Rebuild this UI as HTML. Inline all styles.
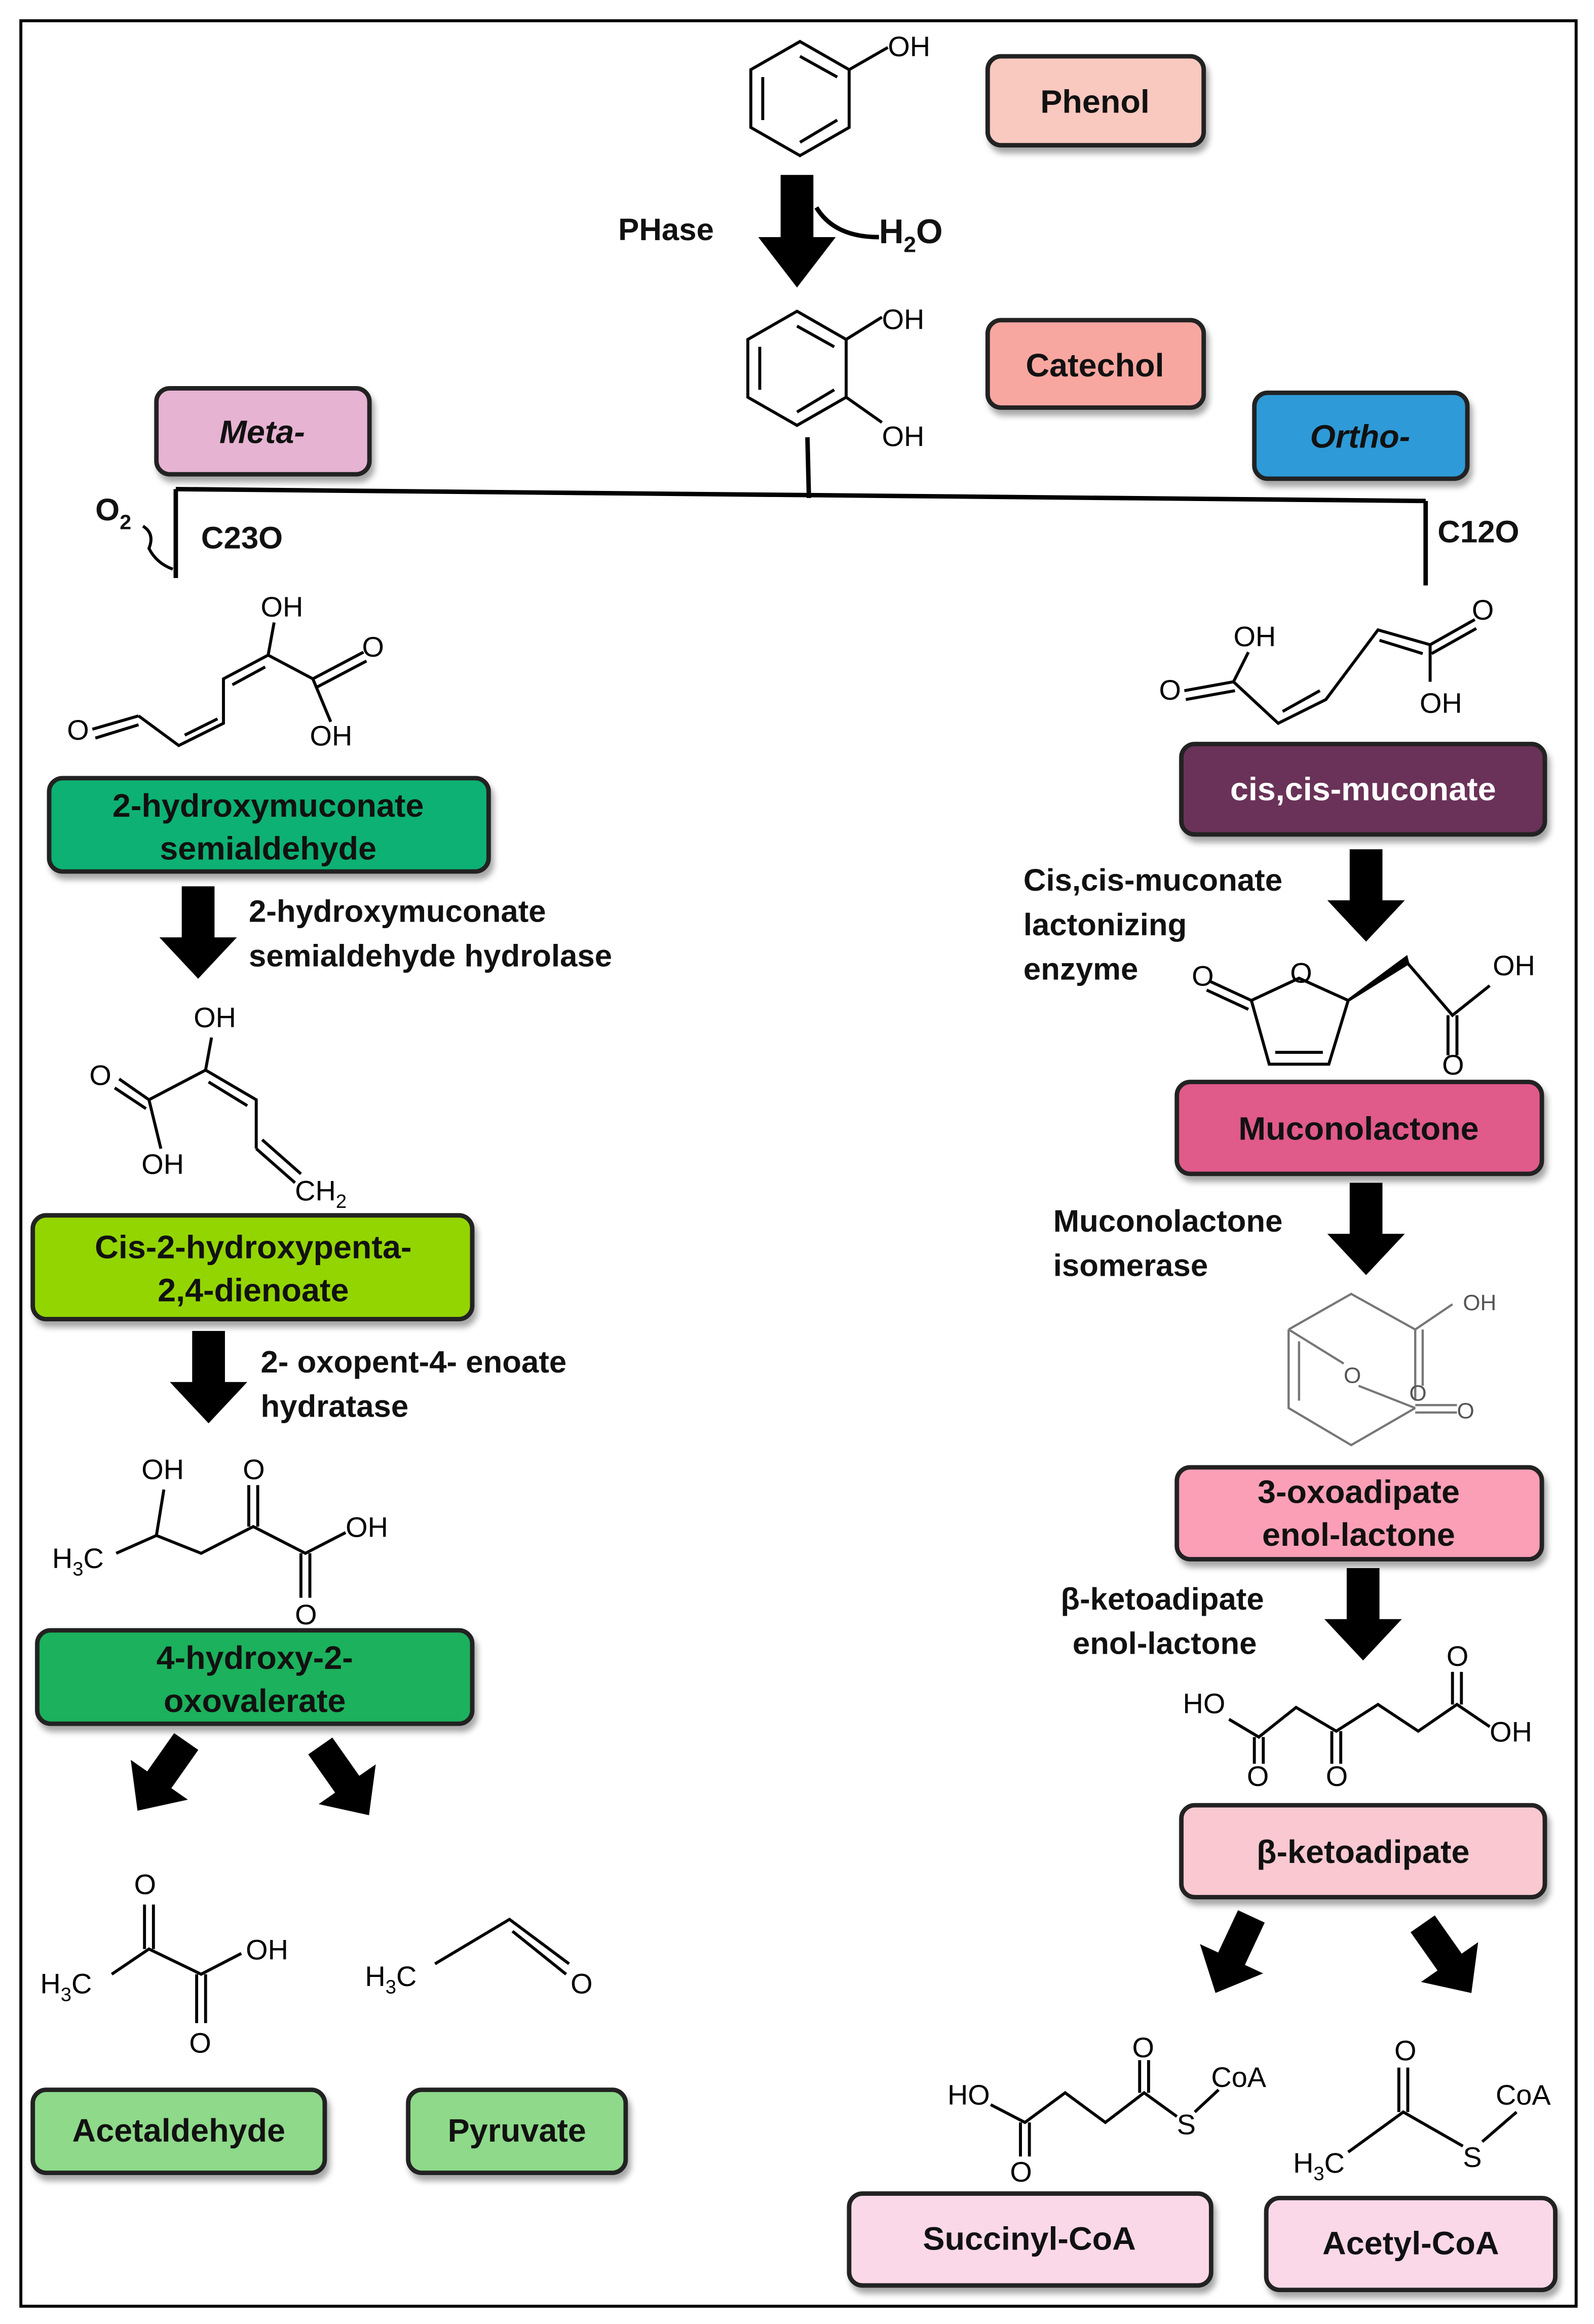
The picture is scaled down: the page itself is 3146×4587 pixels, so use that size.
<!DOCTYPE html>
<html><head><meta charset="utf-8"><style>html,body{margin:0;padding:0;background:#fff}svg{display:block}</style></head>
<body>
<svg width="3146" height="4587" viewBox="0 0 1070 1568" preserveAspectRatio="none" xmlns="http://www.w3.org/2000/svg" font-family="Liberation Sans, sans-serif">
<defs>
<g id="arr"><polygon points="-11,0 11,0 11,42 26,42 0,76 -26,42 -11,42" fill="#000"/></g>
<filter id="sh" x="-10%" y="-10%" width="130%" height="140%"><feDropShadow dx="2" dy="4" stdDeviation="2" flood-color="#000" flood-opacity="0.35"/></filter>
</defs>
<rect x="14" y="14" width="1044" height="1542" fill="#fff" stroke="#000" stroke-width="2"/>

<g fill="none" stroke="#000" stroke-width="2">
<polygon points="537,28 570,47 570,86 537,105 504,86 504,47"/>
<polyline points="537,38 562,52"/><polyline points="562,81 537,96"/><polyline points="512,52 512,81"/>
<line x1="570" y1="47" x2="596" y2="32"/>
<polygon points="535,210 568,229 568,268 535,287 502,268 502,229"/>
<polyline points="535,220 560,234"/><polyline points="560,263 535,278"/><polyline points="510,234 510,263"/>
<line x1="568" y1="229" x2="592" y2="214"/><line x1="568" y1="268" x2="592" y2="285"/>
<path d="M548,140 Q560,160 590,160" stroke-width="3"/>
<g stroke-width="3">
<line x1="542" y1="295" x2="543" y2="336"/>
<line x1="118" y1="330" x2="957" y2="338"/>
<line x1="118" y1="330" x2="118" y2="390"/>
<line x1="957" y1="338" x2="957" y2="395"/>
<path d="M96,355 Q104,360 100,370 Q105,380 116,384" stroke-width="2"/>
</g>
<polyline points="93,483 120,503 150,488 150,458 180,442 210,458 222,487"/>
<line x1="62" y1="492" x2="93" y2="483"/><line x1="64" y1="498" x2="93" y2="489"/>
<line x1="124" y1="496" x2="146" y2="485"/><line x1="156" y1="462" x2="178" y2="450"/>
<line x1="180" y1="442" x2="184" y2="420"/><line x1="210" y1="458" x2="244" y2="440"/><line x1="212" y1="464" x2="246" y2="446"/>
<polyline points="100,742 138,722 172,742 172,775"/>
<line x1="172" y1="775" x2="198" y2="798"/><line x1="176" y1="769" x2="202" y2="792"/>
<line x1="80" y1="728" x2="100" y2="742"/><line x1="77" y1="734" x2="98" y2="748"/>
<line x1="100" y1="742" x2="108" y2="775"/><line x1="138" y1="722" x2="142" y2="700"/>
<line x1="140" y1="730" x2="166" y2="746"/>
<polyline points="78,1048 105,1036 135,1048 170,1030 205,1048 232,1034"/>
<line x1="105" y1="1036" x2="110" y2="1005"/><line x1="167" y1="1030" x2="167" y2="1002"/><line x1="173" y1="1030" x2="173" y2="1002"/>
<line x1="202" y1="1048" x2="202" y2="1078"/><line x1="208" y1="1048" x2="208" y2="1078"/>
<polyline points="75,1332 100,1315 135,1332 162,1318"/>
<line x1="97" y1="1315" x2="97" y2="1285"/><line x1="103" y1="1315" x2="103" y2="1285"/>
<line x1="132" y1="1332" x2="132" y2="1365"/><line x1="138" y1="1332" x2="138" y2="1365"/>
<polyline points="292,1325 342,1295 382,1325"/><line x1="344" y1="1303" x2="380" y2="1332"/>
<polyline points="828,460 858,488 890,472 925,425 960,435 960,460"/>
<line x1="795" y1="466" x2="828" y2="460"/><line x1="796" y1="472" x2="829" y2="466"/>
<line x1="828" y1="460" x2="838" y2="440"/><line x1="861" y1="480" x2="886" y2="466"/>
<line x1="926" y1="432" x2="955" y2="441"/>
<line x1="960" y1="435" x2="990" y2="418"/><line x1="961" y1="441" x2="991" y2="424"/>
<polygon points="840,675 872,660 905,675 892,718 852,718"/>
<line x1="856" y1="710" x2="888" y2="710"/>
<line x1="812" y1="662" x2="840" y2="675"/><line x1="810" y1="668" x2="838" y2="681"/>
<polyline points="945,650 975,685 1000,665"/><line x1="972" y1="685" x2="972" y2="712"/><line x1="978" y1="685" x2="978" y2="712"/>
<polygon points="905,675 945,650 944,646" fill="#000"/>
<g stroke="#777" stroke-width="1.5">
<polyline points="865,897 907,873 950,897 950,945"/><line x1="955" y1="897" x2="955" y2="935"/>
<line x1="950" y1="897" x2="975" y2="880"/>
<polyline points="865,897 865,950 907,975 950,950"/><line x1="872" y1="905" x2="872" y2="945"/>
<line x1="865" y1="897" x2="902" y2="920"/><line x1="912" y1="935" x2="950" y2="950"/>
<line x1="950" y1="948" x2="978" y2="948"/><line x1="950" y1="953" x2="978" y2="953"/>
</g>
<polyline points="825,1160 845,1172 870,1152 897,1168 925,1150 952,1168 978,1150 1000,1165"/>
<line x1="842" y1="1172" x2="842" y2="1190"/><line x1="848" y1="1172" x2="848" y2="1190"/>
<line x1="894" y1="1168" x2="894" y2="1190"/><line x1="900" y1="1168" x2="900" y2="1190"/>
<line x1="975" y1="1150" x2="975" y2="1128"/><line x1="981" y1="1150" x2="981" y2="1128"/>
<polyline points="665,1420 688,1432 715,1412 742,1432 768,1412 790,1428"/>
<line x1="685" y1="1432" x2="685" y2="1455"/><line x1="691" y1="1432" x2="691" y2="1455"/>
<line x1="765" y1="1412" x2="765" y2="1390"/><line x1="771" y1="1412" x2="771" y2="1390"/>
<line x1="802" y1="1425" x2="818" y2="1410"/>
<polyline points="905,1452 942,1425 982,1448"/><line x1="939" y1="1425" x2="939" y2="1395"/><line x1="945" y1="1425" x2="945" y2="1395"/>
<line x1="995" y1="1445" x2="1018" y2="1425"/>
</g>

<g>
<use href="#arr" transform="translate(535,118)"/>
<use href="#arr" transform="translate(133,598) scale(1,0.82)"/>
<use href="#arr" transform="translate(140,898) scale(1,0.82)"/>
<use href="#arr" transform="translate(917,573) scale(1,0.82)"/>
<use href="#arr" transform="translate(917,798) scale(1,0.82)"/>
<use href="#arr" transform="translate(915,1058) scale(1,0.82)"/>
<use href="#arr" transform="translate(125,1175) rotate(35) scale(0.9,0.75)"/>
<use href="#arr" transform="translate(215,1178) rotate(-35) scale(0.9,0.75)"/>
<use href="#arr" transform="translate(840,1293) rotate(25) scale(0.9,0.75)"/>
<use href="#arr" transform="translate(955,1298) rotate(-35) scale(0.9,0.75)"/>
</g>

<g font-size="19" fill="#000">
<text x="596" y="38">OH</text>
<text x="592" y="222">OH</text><text x="592" y="301">OH</text>
<text x="175" y="416">OH</text><text x="243" y="443">O</text><text x="208" y="503">OH</text><text x="45" y="499">O</text>
<text x="130" y="693">OH</text><text x="60" y="732">O</text><text x="95" y="792">OH</text><text x="198" y="810">CH<tspan font-size="13" dy="5">2</tspan></text>
<text x="95" y="998">OH</text><text x="163" y="998">O</text><text x="232" y="1037">OH</text><text x="35" y="1058">H<tspan font-size="13" dy="5">3</tspan><tspan dy="-5">C</tspan></text><text x="198" y="1096">O</text>
<text x="90" y="1278">O</text><text x="165" y="1322">OH</text><text x="27" y="1345">H<tspan font-size="13" dy="5">3</tspan><tspan dy="-5">C</tspan></text><text x="127" y="1385">O</text>
<text x="245" y="1340">H<tspan font-size="13" dy="5">3</tspan><tspan dy="-5">C</tspan></text><text x="383" y="1345">O</text>
<text x="828" y="436">OH</text><text x="988" y="418">O</text><text x="778" y="472">O</text><text x="953" y="481">OH</text>
<text x="800" y="665">O</text><text x="866" y="663">O</text><text x="1002" y="658">OH</text><text x="968" y="725">O</text>
<text x="794" y="1156">HO</text><text x="1000" y="1175">OH</text><text x="837" y="1205">O</text><text x="890" y="1205">O</text><text x="971" y="1124">O</text>
<text x="636" y="1420">HO</text><text x="760" y="1388">O</text><text x="813" y="1408">CoA</text><text x="790" y="1440">S</text><text x="678" y="1472">O</text>
<text x="936" y="1390">O</text><text x="1004" y="1420">CoA</text><text x="868" y="1466">H<tspan font-size="13" dy="5">3</tspan><tspan dy="-5">C</tspan></text><text x="982" y="1462">S</text>
</g>
<g font-size="15" fill="#555">
<text x="982" y="884">OH</text><text x="902" y="933">O</text><text x="946" y="945">O</text><text x="978" y="957">O</text>
</g>

<g font-size="21" font-weight="bold" fill="#111">
<text x="415" y="162">PHase</text>
<text x="590" y="164" font-size="23">H<tspan font-size="15" dy="6">2</tspan><tspan dy="-6">O</tspan></text>
<text x="64" y="351">O<tspan font-size="14" dy="6">2</tspan></text>
<text x="135" y="370">C23O</text>
<text x="965" y="366">C12O</text>
<text x="167" y="622">2-hydroxymuconate</text><text x="167" y="652">semialdehyde hydrolase</text>
<text x="175" y="926">2- oxopent-4- enoate</text><text x="175" y="956">hydratase</text>
<text x="687" y="601">Cis,cis-muconate</text><text x="687" y="631">lactonizing</text><text x="687" y="661">enzyme</text>
<text x="707" y="831">Muconolactone</text><text x="707" y="861">isomerase</text>
<text x="712" y="1086">β-ketoadipate</text><text x="720" y="1116">enol-lactone</text>
</g>

<g stroke="#222" stroke-width="3" filter="url(#sh)">
<rect x="663" y="38" width="145" height="60" rx="9" fill="#f9c8bf"/>
<rect x="663" y="216" width="145" height="59" rx="9" fill="#f8a7a0"/>
<rect x="105" y="262" width="143" height="58" rx="9" fill="#e6b3d2"/>
<rect x="842" y="265" width="143" height="58" rx="9" fill="#2f9ad7"/>
<rect x="33" y="525" width="295" height="63" rx="9" fill="#0db173"/>
<rect x="22" y="820" width="295" height="70" rx="9" fill="#93d500"/>
<rect x="25" y="1100" width="292" height="63" rx="9" fill="#1eb15b"/>
<rect x="22" y="1410" width="196" height="56" rx="9" fill="#8ed98a"/>
<rect x="274" y="1410" width="146" height="56" rx="9" fill="#8ed98a"/>
<rect x="793" y="502" width="244" height="61" rx="9" fill="#6b3358"/>
<rect x="790" y="730" width="245" height="62" rx="9" fill="#e05a8a"/>
<rect x="790" y="990" width="245" height="62" rx="9" fill="#fb9fb6"/>
<rect x="793" y="1218" width="244" height="62" rx="9" fill="#f9c8d0"/>
<rect x="570" y="1480" width="243" height="62" rx="9" fill="#fbd8e8"/>
<rect x="850" y="1483" width="194" height="62" rx="9" fill="#fbd8e8"/>
</g>
<g font-size="22" font-weight="bold" fill="#111" text-anchor="middle">
<text x="735" y="76">Phenol</text>
<text x="735" y="254">Catechol</text>
<text x="176" y="299" font-style="italic">Meta-</text>
<text x="913" y="302" font-style="italic">Ortho-</text>
<text x="180" y="551">2-hydroxymuconate</text><text x="180" y="580">semialdehyde</text>
<text x="170" y="849">Cis-2-hydroxypenta-</text><text x="170" y="878">2,4-dienoate</text>
<text x="171" y="1126">4-hydroxy-2-</text><text x="171" y="1155">oxovalerate</text>
<text x="120" y="1445">Acetaldehyde</text>
<text x="347" y="1445">Pyruvate</text>
<text x="915" y="540" fill="#fff">cis,cis-muconate</text>
<text x="912" y="769">Muconolactone</text>
<text x="912" y="1014">3-oxoadipate</text><text x="912" y="1043">enol-lactone</text>
<text x="915" y="1257">β-ketoadipate</text>
<text x="691" y="1518">Succinyl-CoA</text>
<text x="947" y="1521">Acetyl-CoA</text>
</g>
</svg>
</body></html>
